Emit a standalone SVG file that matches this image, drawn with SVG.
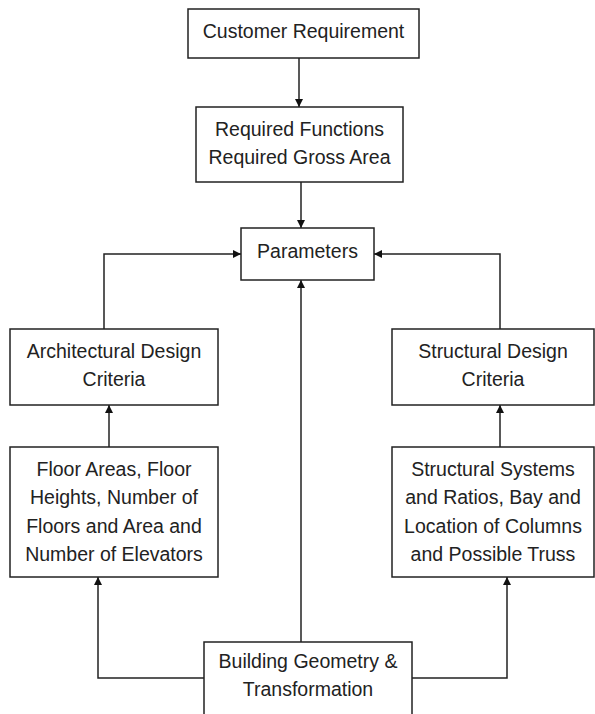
<svg xmlns="http://www.w3.org/2000/svg" width="595" height="714" viewBox="0 0 595 714">
<defs>
<marker id="arr" markerWidth="8" markerHeight="8" refX="8" refY="4" orient="auto" markerUnits="userSpaceOnUse">
<path d="M0,0 L8,4 L0,8 Z" fill="#111"/>
</marker>
<style>
.box{fill:#fff;stroke:#222;stroke-width:1.5}
.t{font-family:"Liberation Sans",Arial,sans-serif;font-size:19.5px;fill:#222;text-anchor:middle}
.c{fill:none;stroke:#222;stroke-width:1.5;marker-end:url(#arr)}
</style>
</defs>
<rect width="595" height="714" fill="#fff"/>
<g id="connectors">
<path class="c" d="M299,58 V107"/>
<path class="c" d="M301,182 V228"/>
<path class="c" d="M104,329 V254 H241"/>
<path class="c" d="M500,329 V254 H374"/>
<path class="c" d="M301,642 V280"/>
<path class="c" d="M109,447 V405"/>
<path class="c" d="M500,447 V405"/>
<path class="c" d="M204,678 H98 V577"/>
<path class="c" d="M412,678 H507 V577"/>
</g>
<g id="customer">
<rect class="box" x="188" y="9" width="231" height="49"/>
<text class="t" x="303.5" y="38">Customer Requirement</text>
</g>
<g id="required">
<rect class="box" x="196" y="107" width="207" height="75"/>
<text class="t" x="299.5" y="136">Required Functions</text>
<text class="t" x="299.5" y="164">Required Gross Area</text>
</g>
<g id="parameters">
<rect class="box" x="241" y="228" width="133" height="52"/>
<text class="t" x="307.5" y="258">Parameters</text>
</g>
<g id="arch">
<rect class="box" x="10" y="329" width="208" height="76"/>
<text class="t" x="114" y="358">Architectural Design</text>
<text class="t" x="114" y="386">Criteria</text>
</g>
<g id="struct">
<rect class="box" x="392" y="329" width="202" height="76"/>
<text class="t" x="493" y="358">Structural Design</text>
<text class="t" x="493" y="386">Criteria</text>
</g>
<g id="floor">
<rect class="box" x="10" y="447" width="208" height="130"/>
<text class="t" x="114" y="476">Floor Areas, Floor</text>
<text class="t" x="114" y="504">Heights, Number of</text>
<text class="t" x="114" y="533">Floors and Area and</text>
<text class="t" x="114" y="561">Number of Elevators</text>
</g>
<g id="systems">
<rect class="box" x="392" y="447" width="202" height="130"/>
<text class="t" x="493" y="476">Structural Systems</text>
<text class="t" x="493" y="504">and Ratios, Bay and</text>
<text class="t" x="493" y="533">Location of Columns</text>
<text class="t" x="493" y="561">and Possible Truss</text>
</g>
<g id="building">
<rect class="box" x="204" y="642" width="208" height="80"/>
<text class="t" x="308" y="668">Building Geometry &amp;</text>
<text class="t" x="308" y="696">Transformation</text>
</g>
</svg>
